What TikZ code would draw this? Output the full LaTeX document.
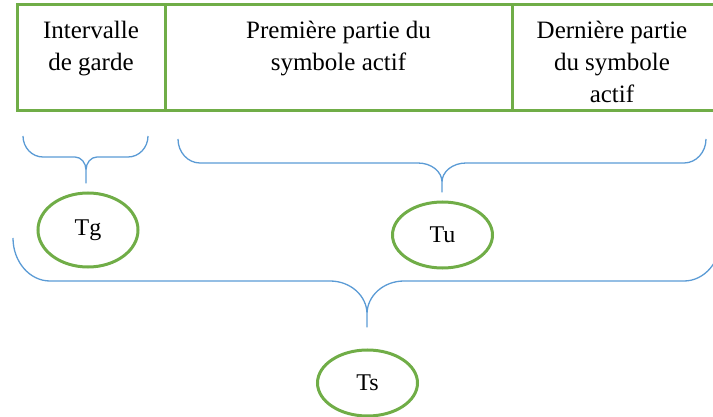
\documentclass[tikz,border=0pt]{standalone}
\usepackage{fontspec}
\setmainfont{Liberation Serif}
\usetikzlibrary{shapes.geometric}
\definecolor{frame}{HTML}{70AD47}
\definecolor{brace}{HTML}{5B9BD5}
% curly brace: left x, right x, middle x, top y, bar y, tip y, end radius x, middle radius x, middle radius y
\newcommand\curlybrace[9]{%
  \draw[bracestyle] (#1,#4)
    .. controls (#1,{#4+0.552*(#5-#4)}) and ({#1+0.448*#7},#5) .. ({#1+#7},#5)
    -- ({#3-#8},#5)
    .. controls ({#3-0.448*#8},#5) and (#3,{#5+0.448*#9}) .. (#3,{#5+#9})
    -- (#3,#6) -- (#3,{#5+#9})
    .. controls (#3,{#5+0.448*#9}) and ({#3+0.448*#8},#5) .. ({#3+#8},#5)
    -- ({#2-#7},#5)
    .. controls ({#2-0.448*#7},#5) and (#2,{#4+0.552*(#5-#4)}) .. (#2,#4);}
\begin{document}
\begin{tikzpicture}[x=1pt,y=-1pt,
  bracestyle/.style={draw=brace,line width=1.3pt,line join=round},
  cell/.style={line width=3pt,draw=frame},
  celltext/.style={align=center,inner sep=0pt,anchor=base,
    font=\fontsize{25}{32}\selectfont},
  oval/.style={ellipse,draw=frame,line width=3pt,inner sep=0pt,
    minimum width=100pt,minimum height=66pt,font=\fontsize{24}{28}\selectfont}]
\useasboundingbox (0,0) rectangle (713,417);
% table frame (right side runs past the page edge)
\draw[cell] (714,5) -- (17,5) -- (17,111) -- (714,111);
\draw[cell] (165,5) -- (165,111);
\draw[cell] (512,5) -- (512,111);
% multi-line cells are placed by the baseline of their last line
\node[celltext] (c1) at (91,71) {Intervalle\\de garde};
\node[celltext] (c2) at (338.5,71) {Première partie du\\symbole actif};
\node[celltext] (c3) at (612,103) {Dernière partie\\du symbole\\actif};
% braces
\curlybrace{23}{148}{86}{136}{157}{183}{20}{11}{13}
\curlybrace{178}{706}{442}{139}{163}{192}{22}{24}{19}
\curlybrace{13}{721}{367}{238}{281}{327}{37}{37}{33}
% durations
\node[oval,minimum height=74pt] (tg) at (88,230) {Tg};
\node[oval] (tu) at (442.5,235) {Tu};
\node[oval] (ts) at (367.5,383) {Ts};
\end{tikzpicture}
\end{document}
